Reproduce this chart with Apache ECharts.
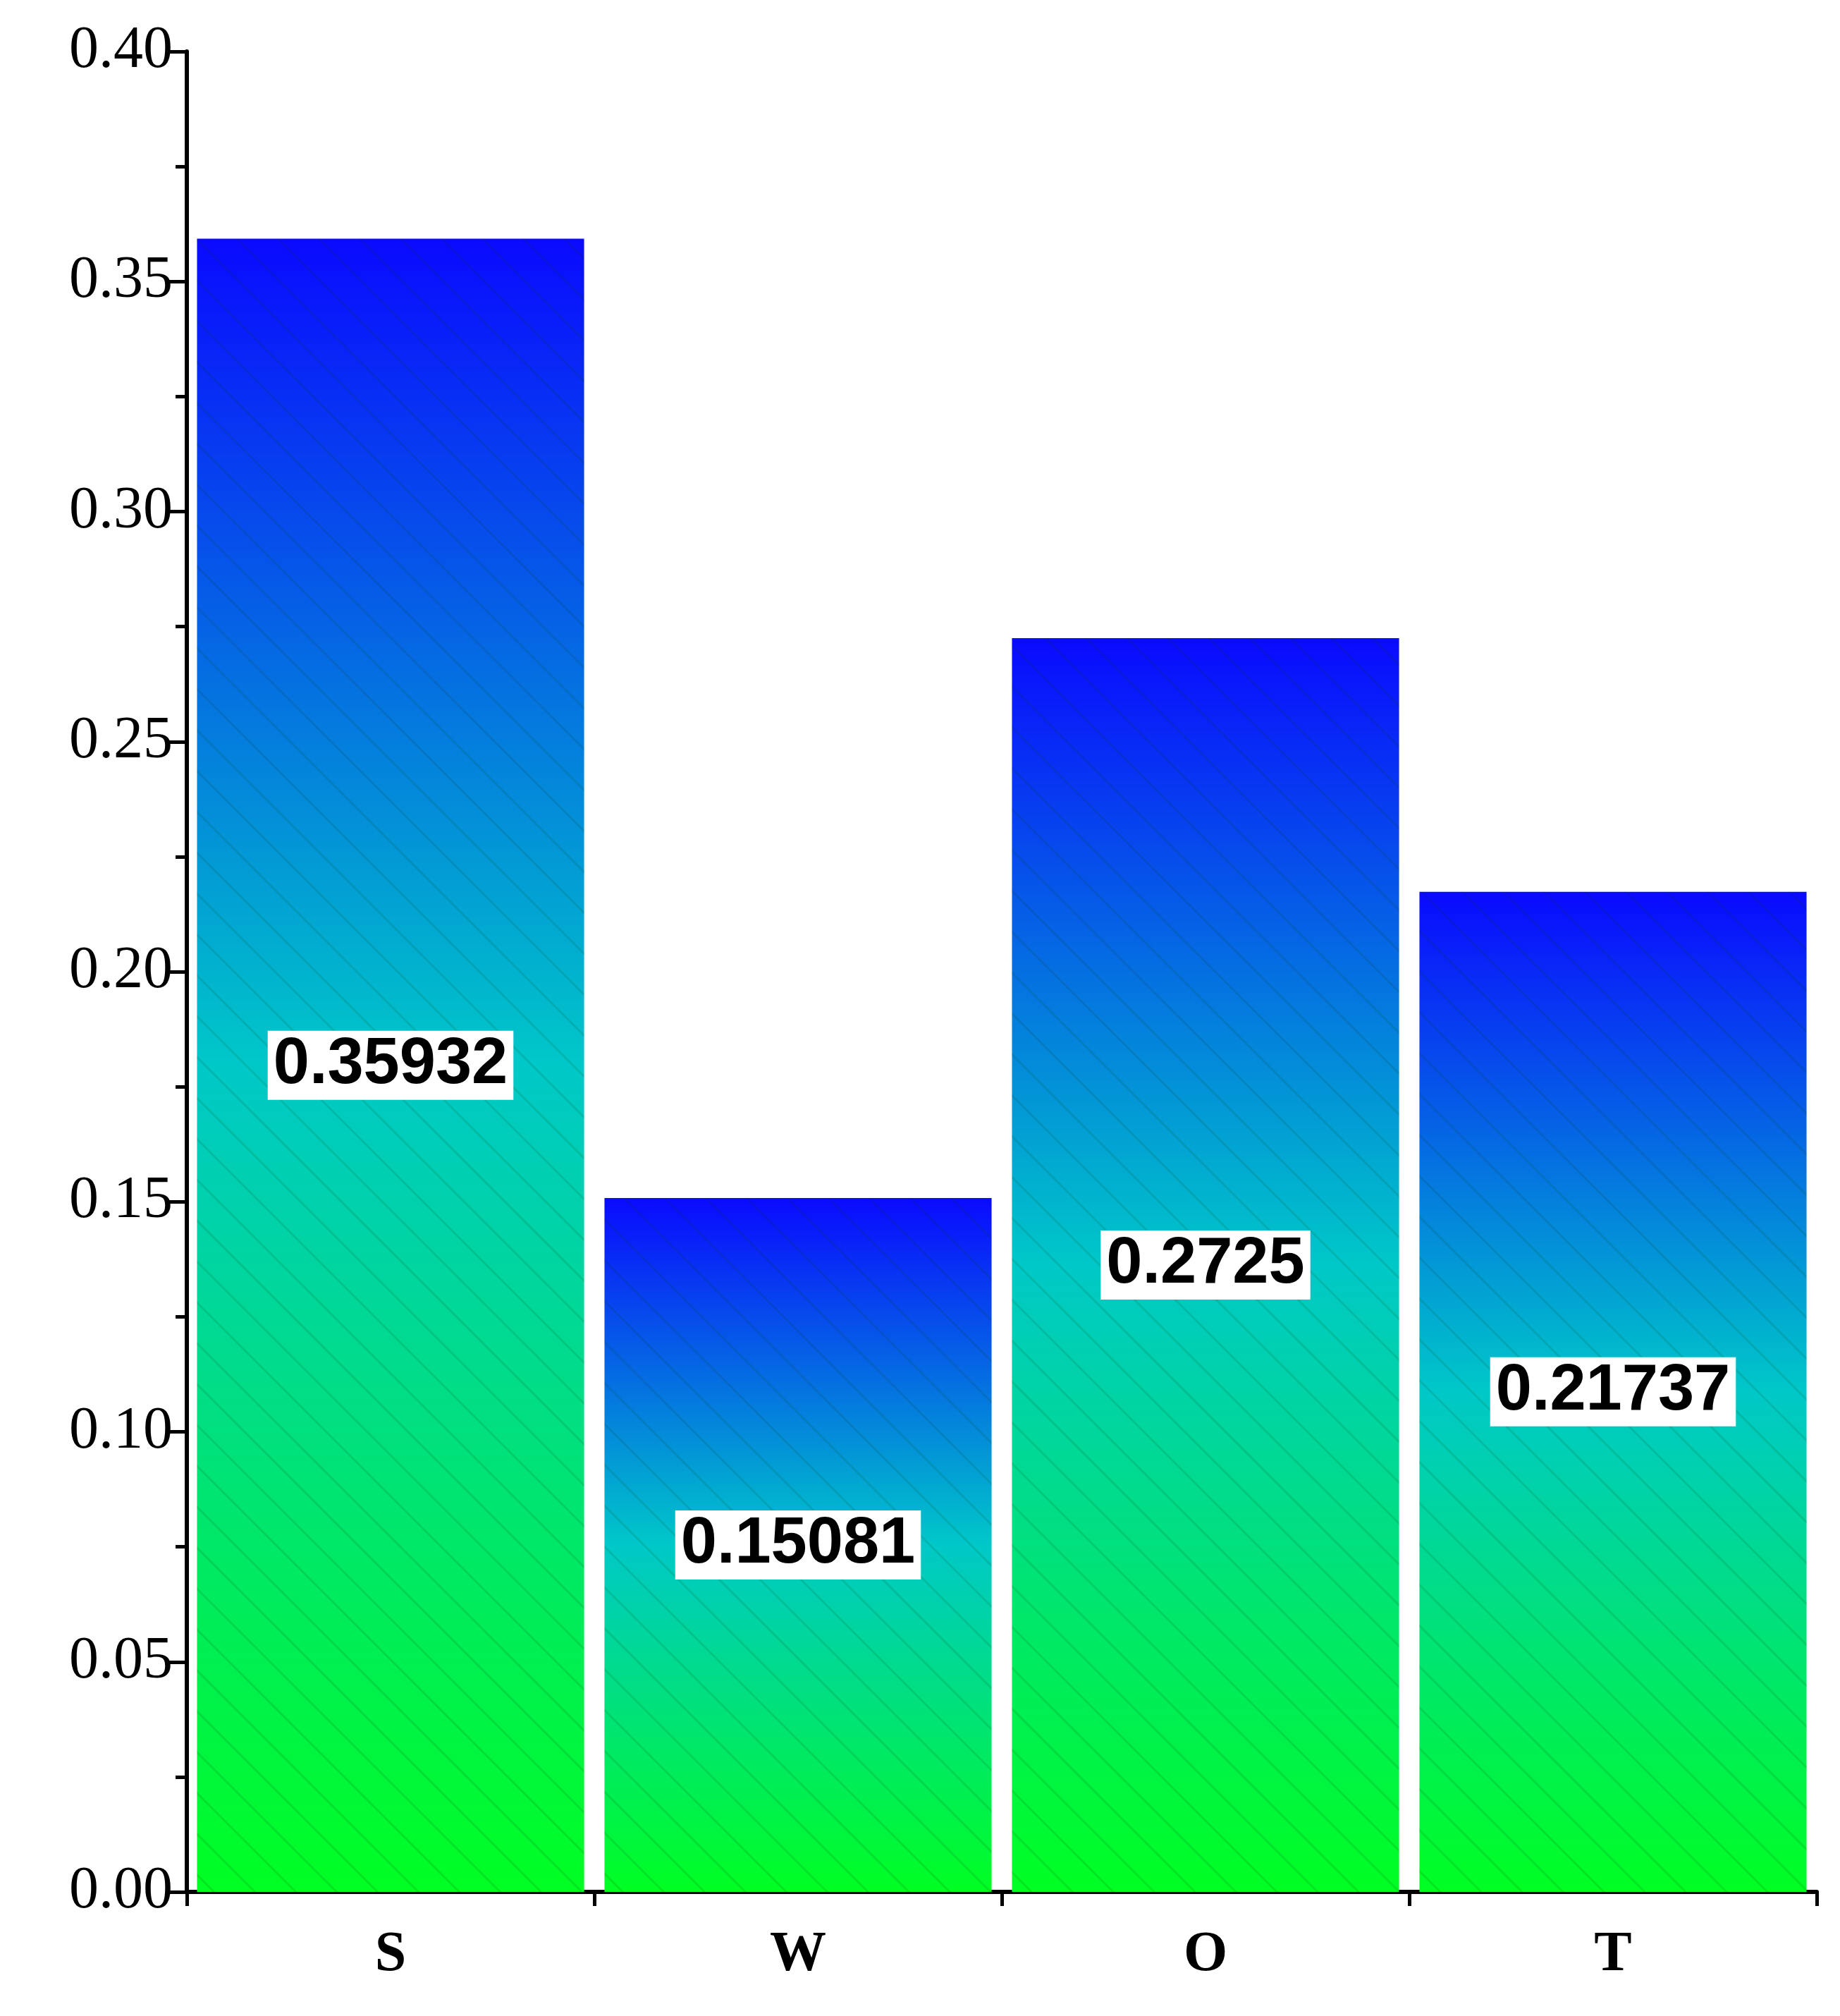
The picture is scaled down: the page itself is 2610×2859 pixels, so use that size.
<!DOCTYPE html>
<html>
<head>
<meta charset="utf-8">
<script src="https://cdn.jsdelivr.net/npm/echarts@6/dist/echarts.min.js"></script>
<style>
  html, body { margin: 0; padding: 0; background: #fff; }
  #chart { width: 2610px; height: 2859px; }
</style>
</head>
<body>
<div id="chart"></div>
<script>
const categories = ['S', 'W', 'O', 'T'];
const values = [0.35932, 0.15081, 0.2725, 0.21737];
const yTicks = [0, 0.05, 0.1, 0.15, 0.2, 0.25, 0.3, 0.35, 0.4];

const chart = echarts.init(document.getElementById('chart'));

const barGradient = new echarts.graphic.LinearGradient(0, 0, 0, 1, [
  { offset: 0, color: '#0a0aff' },
  { offset: 0.5, color: '#00c8c8' },
  { offset: 1, color: '#00ff22' },
]);

const grid = { left: 265, right: 33, top: 73, bottom: 176 };

chart.setOption({
  animation: false,
  backgroundColor: '#fff',
  grid,
  xAxis: [
    {
      type: 'category',
      data: categories,
      axisLine: { lineStyle: { color: '#000', width: 6 } },
      axisTick: { alignWithLabel: true, length: 30, lineStyle: { width: 5, color: '#000' } },
      axisLabel: {
        margin: 50,
        fontFamily: 'Liberation Serif',
        fontWeight: 'bold',
        fontSize: 80,
        color: '#000',
      },
    },
    {
      // boundary ticks between categories
      type: 'value',
      position: 'bottom',
      min: 0,
      max: 4,
      interval: 1,
      axisLine: { show: false },
      axisTick: { show: true, length: 20, lineStyle: { width: 5, color: '#000' } },
      axisLabel: { show: false },
      splitLine: { show: false },
    },
  ],
  yAxis: {
    type: 'value',
    min: yTicks[0],
    max: yTicks[yTicks.length - 1],
    interval: 0.05,
    axisLine: { show: true, lineStyle: { color: '#000', width: 6 } },
    axisTick: { show: true, length: 28, lineStyle: { width: 5, color: '#000' } },
    minorTick: { show: true, splitNumber: 2, length: 16, lineStyle: { width: 5, color: '#000' } },
    splitLine: { show: false },
    axisLabel: {
      margin: 20,
      fontFamily: 'Liberation Serif',
      fontSize: 84,
      color: '#000',
      formatter: (v) => v.toFixed(2),
    },
  },
  series: [
    {
      type: 'bar',
      data: values,
      barCategoryGap: '5%',
      itemStyle: {
        color: barGradient,
        decal: {
          symbol: 'rect',
          dashArrayX: [1, 0],
          dashArrayY: [3, 38],
          rotation: Math.PI / 4,
          color: 'rgba(0,60,0,0.12)',
        },
      },
      label: {
        show: true,
        position: 'inside',
        formatter: (p) => String(p.value),
        fontFamily: 'Liberation Sans',
        fontWeight: 'bold',
        fontSize: 92,
        color: '#000',
        backgroundColor: '#fff',
        padding: [6, 8, 0, 8],
      },
    },
  ],
});
</script>
</body>
</html>
